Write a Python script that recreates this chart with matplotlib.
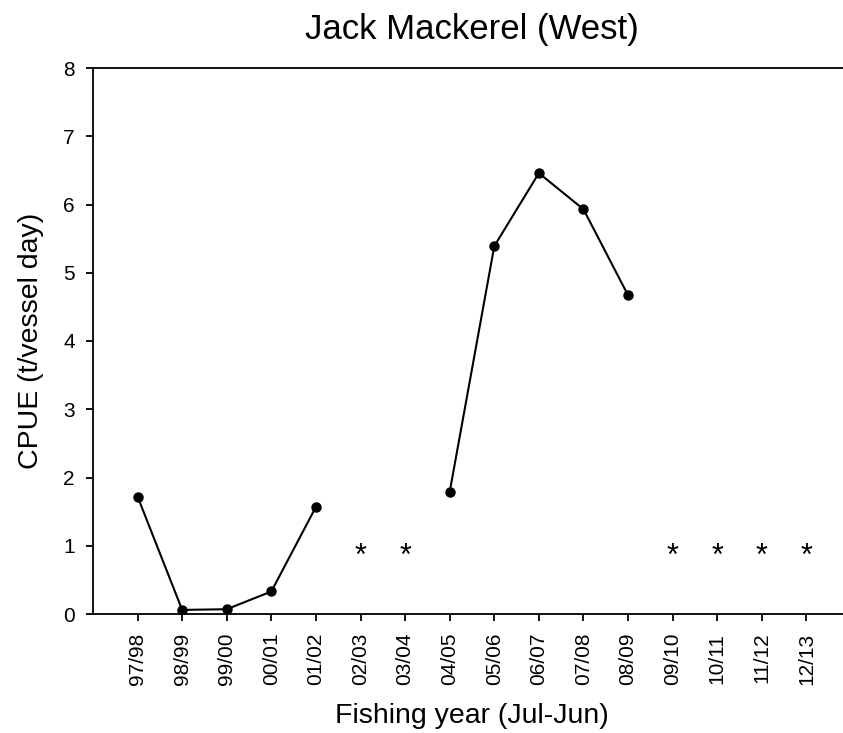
import matplotlib
matplotlib.use("Agg")
import matplotlib.pyplot as plt
import numpy as np

plt.rcParams['font.family'] = ['Liberation Sans', 'DejaVu Sans']

years = ["97/98", "98/99", "99/00", "00/01", "01/02", "02/03", "03/04", "04/05",
         "05/06", "06/07", "07/08", "08/09", "09/10", "10/11", "11/12", "12/13"]
cpue = [1.72, 0.06, 0.07, 0.33, 1.57, np.nan, np.nan, 1.79,
        5.39, 6.46, 5.93, 4.67, np.nan, np.nan, np.nan, np.nan]
star_years = ["02/03", "03/04", "09/10", "10/11", "11/12", "12/13"]
star_level = 1.0

fig = plt.figure(figsize=(8.43, 7.33), dpi=100)
ax = fig.add_axes([93/843, 119/733, 758/843, 546/733])

x = np.arange(len(years))
ax.plot(x, cpue, color='black', lw=1.5, marker='o', markersize=6.5)
for s in star_years:
    ax.annotate("*", (years.index(s), star_level), xytext=(0, -8),
                textcoords='offset points', ha='center', va='center', fontsize=22)

ax.set_xlim(-1, 16)
ax.set_ylim(0, 8)
ax.set_xticks(x)
ax.set_xticklabels(years, rotation=90, fontsize=15)
ax.set_yticks(range(0, 9))
ax.tick_params(axis='y', labelsize=15, direction='out', length=5, width=1.3, pad=8)
ax.tick_params(axis='x', direction='out', length=5, width=1.3, pad=8.5)
ax.spines['right'].set_visible(False)
for sp in ['top', 'left', 'bottom']:
    ax.spines[sp].set_linewidth(1.3)

ax.set_title("Jack Mackerel (West)", fontsize=25, pad=21)
ax.set_xlabel("Fishing year (Jul-Jun)", fontsize=20.5, labelpad=13)
ax.set_ylabel("CPUE (t/vessel day)", fontsize=20.5, labelpad=14)

fig.savefig("out.png", dpi=100)
